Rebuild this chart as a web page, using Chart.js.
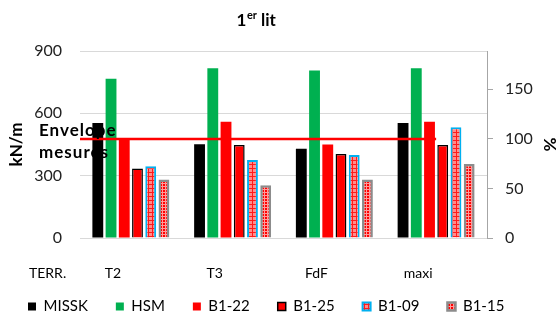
<!DOCTYPE html>
<html>
<head>
<meta charset="utf-8">
<script src="https://cdn.jsdelivr.net/npm/chart.js@4.4.1/dist/chart.umd.min.js"></script>
<style>
  html, body { margin: 0; padding: 0; background: #fff; }
  #wrap { width: 560px; height: 324px; }
</style>
</head>
<body>
<div id="wrap"><canvas id="chart" width="560" height="324"></canvas></div>
<script>
// Data (kN/m)
const categories = ['T2', 'T3', 'FdF', 'maxi'];
const missk = [554, 451, 429, 554];
const hsm = [766, 817, 806, 817];
const b122 = [480, 560, 450, 560];
const b125 = [335, 448, 404, 448];
const b109 = [345, 375, 400, 533];
const b115 = [281, 254, 281, 356];
const leftTicks = [0, 300, 600, 900];
const rightTicks = [0, 50, 100, 150];
// envelope line: 100 % of the measured envelope, from the left edge up to 'maxi'
const envelopeKN = 477;
const envelopePct = 100;
const envelopeSpan = [-0.5, 3];

const FONT = 'Lato, "Open Sans", sans-serif';

// small grid pattern used by the B1-09 / B1-15 bars
function makePattern(bg, line, step) {
    const c = document.createElement('canvas');
    c.width = step; c.height = step;
    const g = c.getContext('2d');
    g.fillStyle = bg;
    g.fillRect(0, 0, step, step);
    g.fillStyle = line;
    g.fillRect(0, 0, step, 1);
    g.fillRect(0, 0, 1, step);
    return g.createPattern(c, 'repeat');
}
const pat09 = makePattern('#ff8c8c', '#ff1a1a', 4);
const pat15 = makePattern('#ff0000', '#ff9a9a', 3);

// envelope line (on the % axis), title "1er lit", category row, labels
const extrasPlugin = {
    id: 'extras',
    afterDatasetsDraw(chart) {
        const ctx = chart.ctx;
        const xs = chart.scales.x;
        const y2 = chart.scales.y2;
        const area = chart.chartArea;
        const ly = y2.getPixelForValue(envelopePct);
        ctx.save();
        // envelope line
        ctx.strokeStyle = '#ff0000';
        ctx.lineWidth = 2.5;
        ctx.beginPath();
        ctx.moveTo(xs.getPixelForValue(envelopeSpan[0]), ly);
        ctx.lineTo(xs.getPixelForValue(envelopeSpan[1]), ly);
        ctx.stroke();

        ctx.fillStyle = '#000';
        ctx.textBaseline = 'alphabetic';
        // title
        ctx.font = 'bold 17px ' + FONT;
        const w1 = ctx.measureText('1').width;
        const w3 = ctx.measureText(' lit').width;
        ctx.font = 'bold 11px ' + FONT;
        const w2 = ctx.measureText('er').width;
        const x = 256 - (w1 + w2 + w3) / 2;
        const base = 26;
        ctx.font = 'bold 17px ' + FONT;
        ctx.fillText('1', x, base);
        ctx.font = 'bold 11px ' + FONT;
        ctx.fillText('er', x + w1 + 0.5, base - 7);
        ctx.font = 'bold 17px ' + FONT;
        ctx.fillText(' lit', x + w1 + w2 + 0.5, base);
        // envelope label
        ctx.font = 'bold 17px ' + FONT;
        ctx.letterSpacing = '1px';
        ctx.textBaseline = 'middle';
        ctx.fillText('Envelope', area.left - 41, ly - 8);
        ctx.fillText('mesures', area.left - 41, ly + 14);
        ctx.letterSpacing = '0px';
        // category row: TERR. then the categories, shifted left of the bar groups
        ctx.font = '14px ' + FONT;
        ctx.fillText('TERR.', 29, 273);
        ctx.textAlign = 'center';
        categories.forEach((c, i) => ctx.fillText(c, xs.getPixelForValue(i) - 18, 273));
        ctx.restore();
    }
};

const barCommon = { categoryPercentage: 0.78, barPercentage: 0.82 };

new Chart(document.getElementById('chart'), {
    type: 'bar',
    data: {
        labels: categories,
        datasets: [
            { ...barCommon, label: 'MISSK', data: missk, backgroundColor: '#000000', borderWidth: 0 },
            { ...barCommon, label: 'HSM', data: hsm, backgroundColor: '#00b050', borderWidth: 0 },
            { ...barCommon, label: 'B1-22', data: b122, backgroundColor: '#ff0000', borderWidth: 0 },
            { ...barCommon, label: 'B1-25', data: b125, backgroundColor: '#ff0000', borderColor: '#000000', borderWidth: 1.5 },
            { ...barCommon, label: 'B1-09', data: b109, backgroundColor: pat09, borderColor: '#00b0f0', borderWidth: 2 },
            { ...barCommon, label: 'B1-15', data: b115, backgroundColor: pat15, borderColor: '#8c8c8c', borderWidth: 2.5 }
        ]
    },
    options: {
        responsive: false,
        animation: false,
        layout: { padding: { top: 51, left: 0, right: 0, bottom: 0 } },
        plugins: {
            title: { display: false },
            tooltip: { enabled: false },
            legend: {
                position: 'bottom',
                align: 'start',
                labels: {
                    boxWidth: 8, boxHeight: 8, padding: 28,
                    color: '#000', font: { family: FONT, size: 15 }
                }
            }
        },
        scales: {
            x: {
                grid: { display: false },
                border: { color: '#d9d9d9', width: 1 },
                ticks: { display: false },
                afterFit: s => { s.height = 33; }
            },
            y: {
                position: 'left',
                min: 0, max: leftTicks[leftTicks.length - 1],
                afterBuildTicks: s => { s.ticks = leftTicks.map(v => ({ value: v })); },
                grid: { color: '#d9d9d9', drawTicks: false },
                border: { display: false },
                ticks: { color: '#222', font: { family: FONT, size: 16 }, padding: 18 },
                title: { display: true, text: 'kN/m', color: '#000', font: { family: FONT, size: 17, weight: 'bold' }, padding: { top: 6, bottom: 0 } },
                afterFit: s => { s.width = 80; }
            },
            y2: {
                position: 'right',
                min: 0, max: leftTicks[leftTicks.length - 1] / envelopeKN * 100,
                afterBuildTicks: s => { s.ticks = rightTicks.map(v => ({ value: v })); },
                grid: { drawOnChartArea: false, color: '#a6a6a6', tickLength: 6 },
                border: { color: '#a6a6a6', width: 1 },
                ticks: { color: '#222', font: { family: FONT, size: 16 }, padding: 12 },
                title: { display: true, text: '%', color: '#000', font: { family: FONT, size: 17, weight: 'bold' }, padding: { top: 0, bottom: 4 } },
                afterFit: s => { s.width = 73; }
            }
        }
    },
    plugins: [extrasPlugin]
});
</script>
</body>
</html>
